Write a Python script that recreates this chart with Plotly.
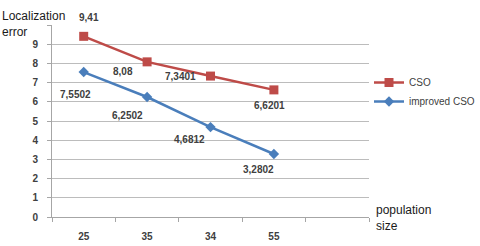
import plotly.graph_objects as go

categories = ["25", "35", "34", "55"]
cso = [9.41, 8.08, 7.3401, 6.6201]
improved = [7.5502, 6.2502, 4.6812, 3.2802]
y_tickvals = [0, 1, 2, 3, 4, 5, 6, 7, 8, 9, 10]
y_ticktext = ["0", "1", "2", "3", "4", "5", "6", "7", "8", "9", ""]

# label offsets (pixels) per point, mimicking the original label placement
cso_shift = [(5, 19), (-24, -10), (-30, 0), (-4, -16)]
imp_shift = [(-8, -22), (-20, -18), (-21, -12), (-15, -15)]

RED = "#BE4B48"
BLUE = "#4A7EBB"
TXT = "#404040"
FONT = "Liberation Sans"

xpos = list(range(len(categories)))

fig = go.Figure()
fig.add_trace(go.Scatter(x=xpos, y=cso, name="CSO", mode="lines+markers",
                         line=dict(color=RED, width=2.5),
                         marker=dict(symbol="square", size=9, color=RED)))
fig.add_trace(go.Scatter(x=xpos, y=improved, name="improved CSO", mode="lines+markers",
                         line=dict(color=BLUE, width=2.5),
                         marker=dict(symbol="diamond", size=8, color=BLUE)))

def fmt(v):
    return ("%g" % v).replace(".", ",")

for vals, shifts in ((cso, cso_shift), (improved, imp_shift)):
    for i, (v, (dx, dy)) in enumerate(zip(vals, shifts)):
        fig.add_annotation(x=xpos[i], y=v, text="<b>" + fmt(v) + "</b>", showarrow=False,
                           xshift=dx, yshift=dy,
                           font=dict(family=FONT, size=10, color=TXT))

fig.add_annotation(xref="paper", yref="paper", x=-0.165, y=1.094, xanchor="left", yanchor="top",
                   text="Localization<br>error", showarrow=False, align="left",
                   font=dict(family=FONT, size=12, color="#1a1a1a"))
fig.add_annotation(xref="paper", yref="paper", x=1.015, y=0.085, xanchor="left", yanchor="top",
                   text="population<br>size", showarrow=False, align="left",
                   font=dict(family=FONT, size=12, color="#1a1a1a"))

fig.update_layout(
    width=480, height=246,
    margin=dict(l=52, r=111, t=25, b=29, autoexpand=False),
    paper_bgcolor="white", plot_bgcolor="white",
    showlegend=True,
    legend=dict(x=1.0, y=0.776, xanchor="left", yanchor="top",
                font=dict(family=FONT, size=10, color=TXT),
                itemwidth=30, tracegroupgap=0, bgcolor="rgba(0,0,0,0)"),
    xaxis=dict(range=[-0.5, 4.5], tickvals=xpos, ticktext=["<b>%s</b>" % c for c in categories],
               ticks="",
               showgrid=False, zeroline=False, showline=True, linecolor="#A6A6A6", linewidth=1,
               tickfont=dict(family=FONT, size=10, color=TXT), ticklabelstandoff=10,
               minor=dict(tick0=0.5, dtick=1, ticks="outside", ticklen=4, tickcolor="#A6A6A6",
                          showgrid=False)),
    yaxis=dict(range=[0, 10], tickvals=y_tickvals, ticktext=["<b>%s</b>" % t if t else t for t in y_ticktext],
               ticks="outside", ticklabelstandoff=7,
               ticklen=4, tickcolor="#A6A6A6", showgrid=True, gridcolor="#BCBCBC", gridwidth=1,
               zeroline=False, showline=True, linecolor="#A6A6A6", linewidth=1,
               tickfont=dict(family=FONT, size=10, color=TXT)),
)

fig.write_html("out.html", config={"displayModeBar": False},
               post_script="document.body.style.margin='0';document.body.style.overflow='hidden';")
